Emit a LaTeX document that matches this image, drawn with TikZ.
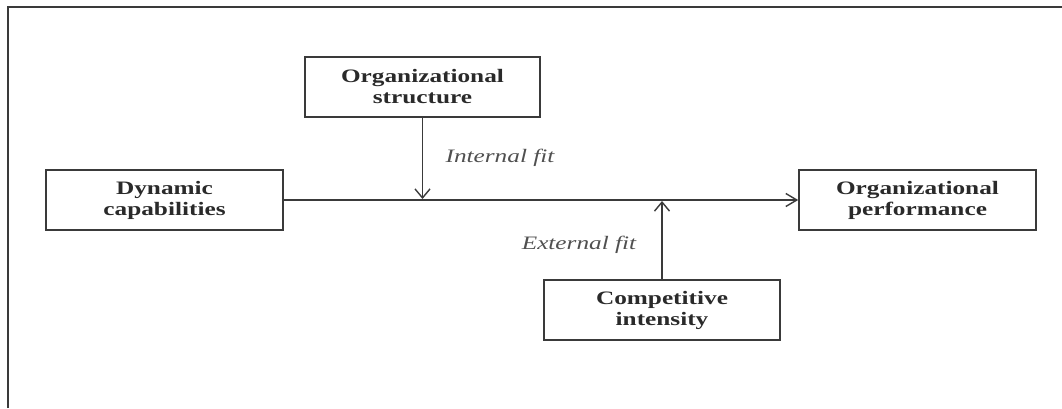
\documentclass[tikz,border=0pt]{standalone}
\usepackage{fontspec}
\setmainfont{Liberation Serif}
\newfontfamily\widefont[FakeStretch=1.33]{Liberation Serif}
\usetikzlibrary{arrows.meta}
\definecolor{lnc}{HTML}{3A3A3A}
\definecolor{txc}{HTML}{2A2A2A}
\definecolor{itc}{HTML}{505050}
\tikzset{
  boxnode/.style={draw=lnc, line width=1.6pt, rectangle, minimum width=235pt, minimum height=60pt, inner sep=0pt, align=center, text=txc, font=\widefont\bfseries\fontsize{19}{21}\selectfont},
  fitlabel/.style={text=itc, inner sep=0pt, font=\widefont\itshape\fontsize{19}{21}\selectfont},
  hconn/.style={draw=lnc, line width=1.4pt, -{Straight Barb[length=11pt,width=13pt,line width=1.4pt]}},
  vconn/.style={draw=lnc, line width=1.4pt, -{Straight Barb[length=9pt,width=15pt,line width=1.4pt]}}
}
\begin{document}
\begin{tikzpicture}[x=1pt,y=-1pt]
\useasboundingbox (0,0) rectangle (1062,408);
\draw[lnc, line width=2pt] (8,408) -- (8,7) -- (1062,7);
\node[boxnode] (os) at (422.5,87) {Organizational\\structure};
\node[boxnode, minimum width=237pt] (dc) at (164.5,200) {Dynamic\\capabilities};
\node[boxnode, minimum width=237pt] (op) at (917.5,200) {Organizational\\performance};
\node[boxnode, minimum width=236pt] (ci) at (662,310) {Competitive\\intensity};
\coordinate (mi) at (422.5,199);
\coordinate (me) at (662,201);
\draw[hconn] (dc.east) -- (op.west);
\draw[vconn] (os.south) -- (mi);
\draw[vconn] (ci.north) -- (me);
\node[fitlabel] (inf) at (500,158) {Internal fit};
\node[fitlabel] (exf) at (579,245) {External fit};
\end{tikzpicture}
\end{document}
